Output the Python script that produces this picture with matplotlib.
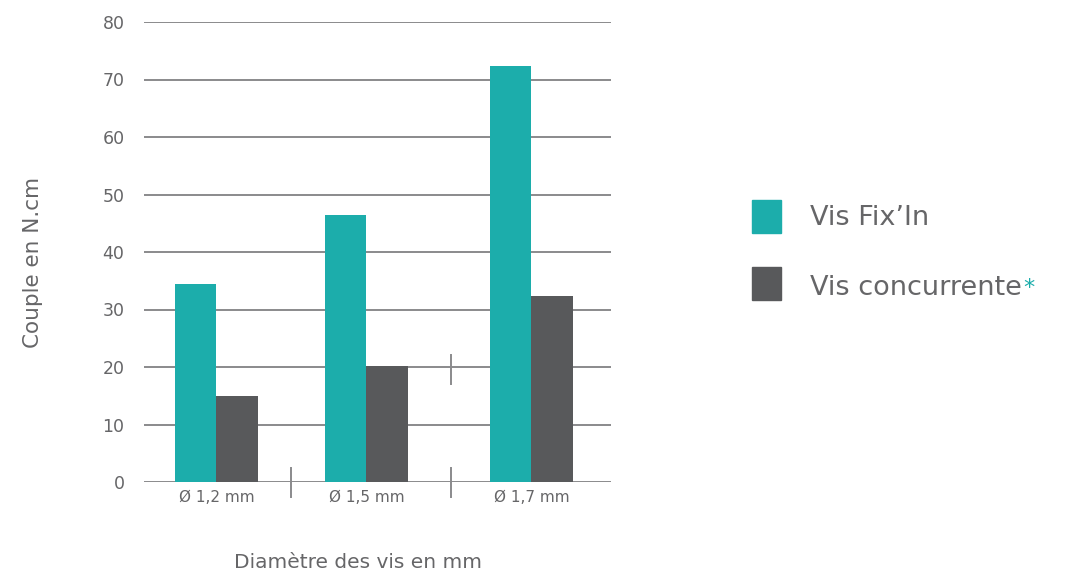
import numpy as np
import matplotlib.pyplot as plt

plt.rcParams['font.family'] = ['DejaVu Sans']

categories = ['Ø 1,2 mm', 'Ø 1,5 mm', 'Ø 1,7 mm']
fixin = [34.5, 46.4, 72.3]
concurrente = [15.0, 20.2, 32.4]
yticks = [0, 10, 20, 30, 40, 50, 60, 70, 80]

teal = '#1CADAB'
dark = '#58595B'
grid_c = '#8a8a8c'
txt_c = '#666668'

# group centres are not evenly spaced in the original
pos = np.array([0.0, 1.0, 2.1])
w = 0.277

fig = plt.figure(figsize=(10.65, 5.75), dpi=100)
ax = fig.add_axes([144 / 1065, 93 / 575, 467 / 1065, 460 / 575])

for t in yticks:
    ax.axhline(t, color=grid_c, lw=1.4, zorder=1)

ax.bar(pos - w / 2, fixin, w, color=teal, zorder=2)
ax.bar(pos + w / 2, concurrente, w, color=dark, zorder=2)

ax.set_xlim(-0.483, 2.63)
ax.set_ylim(0, 80)
for s in ax.spines.values():
    s.set_visible(False)

ax.set_yticks(yticks)
ax.set_yticklabels([str(t) for t in yticks], fontsize=12.5, color=txt_c)
ax.tick_params(axis='y', length=0, pad=14)
ax.set_xticks(pos)
ax.set_xticklabels(categories, fontsize=11, color=txt_c)
ax.tick_params(axis='x', length=0, pad=6)

# separators between groups
for xs in [0.497, 1.563]:
    ax.plot([xs, xs], [-2.6, 2.4], color=grid_c, lw=1.4, clip_on=False, zorder=3)
ax.plot([1.563, 1.563], [17.0, 22.1], color=grid_c, lw=1.4, zorder=3)

fig.text(33 / 1065, 1 - 262 / 575, 'Couple en N.cm', fontsize=15.5, color=txt_c,
         rotation=90, ha='center', va='center')
fig.text(358 / 1065, 1 - 562 / 575, 'Diamètre des vis en mm', fontsize=14.5,
         color=txt_c, ha='center', va='center')

# legend
fig.patches.append(plt.Rectangle((752 / 1065, (575 - 233) / 575), 29 / 1065, 33 / 575,
                                 transform=fig.transFigure, color=teal))
fig.patches.append(plt.Rectangle((752 / 1065, (575 - 300) / 575), 29 / 1065, 33 / 575,
                                 transform=fig.transFigure, color=dark))
fig.text(810 / 1065, 1 - 218 / 575, 'Vis Fix\u2019In', fontsize=19.5, color=txt_c, va='center')
t2 = fig.text(810 / 1065, 1 - 288 / 575, 'Vis concurrente', fontsize=19.5, color=txt_c, va='center')
fig.canvas.draw()
bb = t2.get_window_extent()
fig.text(bb.x1 / 1065 + 0.001, bb.y1 / 575 - 0.006, '*', fontsize=16, color=teal, va='top')

fig.savefig('out.png', dpi=100)
